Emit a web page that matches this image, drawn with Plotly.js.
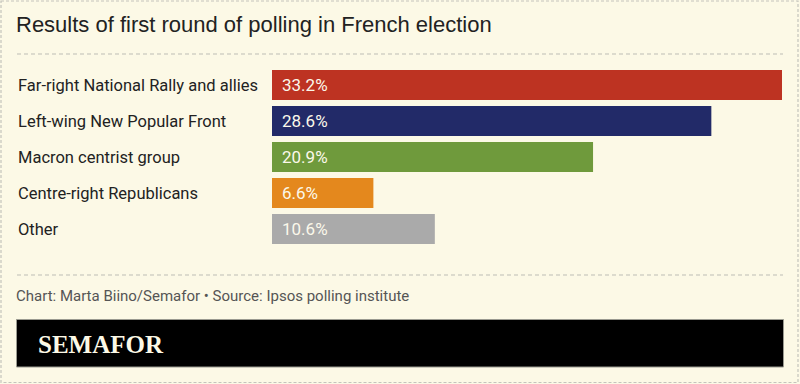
<!DOCTYPE html>
<html>
<head>
<meta charset="utf-8">
<script src="https://cdn.plot.ly/plotly-3.0.1.min.js"></script>
<style>
  html, body { margin: 0; padding: 0; background: #fcf9e6; }
  #chart { width: 800px; height: 384px; }
</style>
</head>
<body>
<div id="chart"></div>
<script>
// ---- data ----
const categories = [
  "Far-right National Rally and allies",
  "Left-wing New Popular Front",
  "Macron centrist group",
  "Centre-right Republicans",
  "Other"
];
const shares = [33.2, 28.6, 20.9, 6.6, 10.6];
const barColors = ["#bd3322", "#222a68", "#6f9a3c", "#e4881d", "#aaaaaa"];
const titleText = "Results of first round of polling in French election";
const sourceText = "Chart: Marta Biino/Semafor \u2022 Source: Ipsos polling institute";
const brandText = "SEMAFOR";

// ---- layout geometry (pixels) ----
const W = 800, H = 384;
const L = 272, R = 18, T = 67, B = 137;
const PW = W - L - R, PH = H - T - B;
const px = x => (x - L) / PW;
const py = y => (T + PH - y) / PH;

const bg = "#fcf9e6";
const labelFont = "Roboto, 'Noto Sans', sans-serif";

const trace = {
  type: "bar",
  orientation: "h",
  x: shares,
  y: categories,
  marker: { color: barColors, line: { width: 0 } },
  hoverinfo: "skip",
  width: 0.833
};

const annotations = [];
categories.forEach((c, i) => {
  annotations.push({
    xref: "paper", yref: "y", x: px(16), y: c,
    xanchor: "left", yanchor: "middle", showarrow: false,
    text: c, font: { family: labelFont, size: 16.5, color: "#222222" }
  });
  annotations.push({
    xref: "x", yref: "y", x: 0, y: c, xshift: 8,
    xanchor: "left", yanchor: "middle", showarrow: false,
    text: shares[i].toFixed(1) + "%",
    font: { family: labelFont, size: 17, color: "#fbf8ea" }
  });
});
annotations.push({
  xref: "paper", yref: "paper", x: px(14), y: py(296),
  xanchor: "left", yanchor: "middle", showarrow: false,
  text: sourceText, font: { family: labelFont, size: 15, color: "#555555" }
});
annotations.push({
  xref: "paper", yref: "paper", x: px(36), y: py(344),
  xanchor: "left", yanchor: "middle", showarrow: false,
  text: "<b>" + brandText + "</b>",
  font: { family: "'Liberation Serif', 'DejaVu Serif', serif", size: 25, color: "#fcf9e6" }
});

const dashLine = { color: "#bdbdb5", width: 1, dash: "4px,3px" };
const shapes = [
  // outer frame
  { type: "rect", xref: "paper", yref: "paper", x0: px(1), x1: px(798), y0: py(1), y1: py(382.5),
    line: { color: "#c4c4bc", width: 1.2, dash: "3px,2px" }, fillcolor: "rgba(0,0,0,0)", layer: "above" },
  // separators
  { type: "line", xref: "paper", yref: "paper", x0: px(17), x1: px(783), y0: py(54), y1: py(54), line: dashLine },
  { type: "line", xref: "paper", yref: "paper", x0: px(17), x1: px(783), y0: py(275), y1: py(275), line: dashLine },
  // brand bar
  { type: "rect", xref: "paper", yref: "paper", x0: px(16.5), x1: px(783.5), y0: py(319.5), y1: py(367),
    fillcolor: "#000000", line: { color: "#9a9a90", width: 1 }, layer: "below" }
];

const layout = {
  width: W, height: H,
  margin: { l: L, r: R, t: T, b: B, pad: 0 },
  paper_bgcolor: bg, plot_bgcolor: bg,
  showlegend: false,
  title: {
    text: titleText,
    xref: "container", yref: "container",
    x: 16 / W, xanchor: "left",
    y: 1 - 24 / H, yanchor: "middle",
    font: { family: "'Liberation Sans', Arial, sans-serif", size: 22, color: "#222222" }
  },
  xaxis: { range: [0, 33.2], visible: false, fixedrange: true },
  yaxis: { type: "category", autorange: false, range: [4.5, -0.5], visible: false, fixedrange: true },
  bargap: 0.167,
  annotations: annotations,
  shapes: shapes
};

Plotly.newPlot("chart", [trace], layout, { displayModeBar: false, staticPlot: true });
</script>
</body>
</html>
